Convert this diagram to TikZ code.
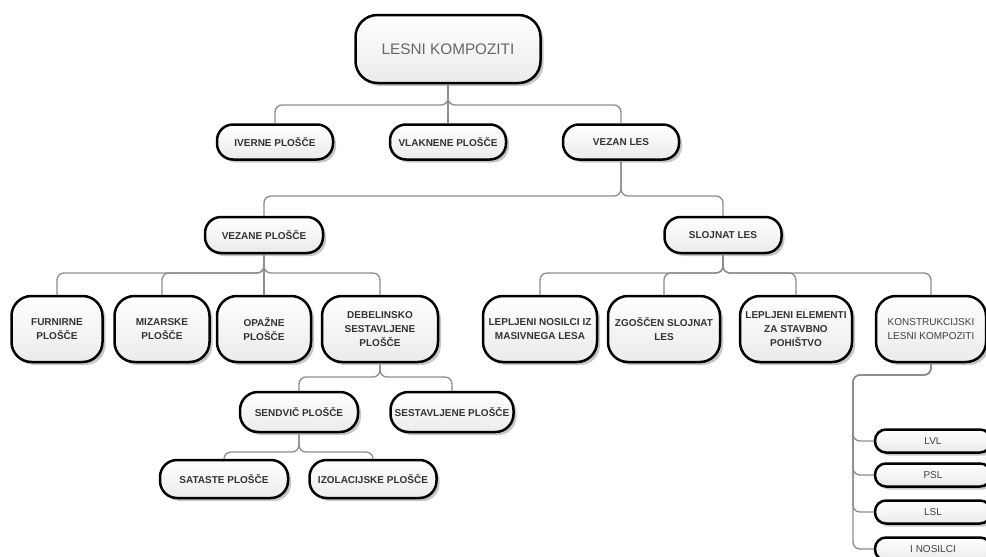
\documentclass[tikz,border=0pt]{standalone}
\usepackage{fontspec}
\setmainfont{Liberation Sans}
\usetikzlibrary{shadows}
\begin{document}
\begin{tikzpicture}[x=1pt,y=-1pt,
  box/.style={draw=black, line width=2.5pt, rounded corners=16pt,
    top color=white, bottom color=black!8,
    drop shadow={shadow xshift=3pt, shadow yshift=-3pt, opacity=0.22, fill=black},
    inner sep=0pt, align=center, font=\bfseries\fontsize{10}{14}\selectfont, text=black!80},
  regtext/.style={font=\fontsize{10}{14}\selectfont, text=black!75},
  conn/.style={draw=black!45, line width=1.3pt, rounded corners=7pt},
]
\clip (0,0) rectangle (986,557);
\fill[white] (0,0) rectangle (986,557);

% nodes
\node[box, rounded corners=22pt, minimum width=185pt, minimum height=68pt, font=\fontsize{15.3}{18}\selectfont, text=black!60] (root) at (448,49) {LESNI KOMPOZITI};

\node[box, minimum width=116pt, minimum height=35pt] (iv) at (275,142) {IVERNE PLOŠČE};
\node[box, minimum width=116pt, minimum height=35pt] (vl) at (448,142) {VLAKNENE PLOŠČE};
\node[box, minimum width=116pt, minimum height=35pt] (vz) at (621,142) {VEZAN LES};

\node[box, minimum width=118pt, minimum height=36pt] (vp) at (264,235) {VEZANE PLOŠČE};
\node[box, minimum width=117pt, minimum height=36pt] (sl) at (723,235) {SLOJNAT LES};

\node[box, rounded corners=20pt, minimum width=91pt, minimum height=66pt] (fu) at (57,329) {FURNIRNE\\PLOŠČE};
\node[box, rounded corners=20pt, minimum width=95pt, minimum height=66pt] (mi) at (162,329) {MIZARSKE\\PLOŠČE};
\node[box, rounded corners=20pt, minimum width=94pt, minimum height=66pt] (op) at (264,329) {OPAŽNE\\PLOŠČE};
\node[box, rounded corners=20pt, minimum width=116pt, minimum height=66pt] (de) at (380,329) {DEBELINSKO\\SESTAVLJENE\\PLOŠČE};
\node[box, rounded corners=20pt, minimum width=114pt, minimum height=66pt] (ln) at (540,329) {LEPLJENI NOSILCI IZ\\MASIVNEGA LESA};
\node[box, rounded corners=20pt, minimum width=112pt, minimum height=66pt] (zg) at (664,329) {ZGOŠČEN SLOJNAT\\LES};
\node[box, rounded corners=20pt, minimum width=112pt, minimum height=66pt] (le) at (796,329) {LEPLJENI ELEMENTI\\ZA STAVBNO\\POHIŠTVO};
\node[box, regtext, rounded corners=20pt, minimum width=110pt, minimum height=66pt] (ko) at (931,329) {KONSTRUKCIJSKI\\LESNI KOMPOZITI};

\node[box, rounded corners=18pt, minimum width=118pt, minimum height=40pt] (se) at (299,412) {SENDVIČ PLOŠČE};
\node[box, rounded corners=18pt, minimum width=123pt, minimum height=40pt] (ss) at (452,412) {SESTAVLJENE PLOŠČE};

\node[box, rounded corners=17pt, minimum width=128pt, minimum height=38pt] (sa) at (224,479) {SATASTE PLOŠČE};
\node[box, rounded corners=17pt, minimum width=127pt, minimum height=38pt] (iz) at (373,479) {IZOLACIJSKE PLOŠČE};

\node[box, regtext, rounded corners=11pt, minimum width=116pt, minimum height=23pt] (lvl) at (933,441) {LVL};
\node[box, regtext, rounded corners=11pt, minimum width=116pt, minimum height=23pt] (psl) at (933,475) {PSL};
\node[box, regtext, rounded corners=11pt, minimum width=116pt, minimum height=23pt] (lsl) at (933,512) {LSL};
\node[box, regtext, rounded corners=11pt, minimum width=116pt, minimum height=23pt] (ino) at (933,549) {I NOSILCI};

% bus coordinates
\coordinate (b1) at (0,105);
\coordinate (b2) at (0,196);
\coordinate (b3) at (0,273);
\coordinate (b4) at (0,377);
\coordinate (b5) at (0,452);
\coordinate (kb) at (853,375);

% connectors
\foreach \c in {iv,vz} \draw[conn] (root.south) |- (\c.north |- b1) -- (\c.north);
\draw[conn] (root.south) -- (vl.north);
\foreach \c in {vp,sl} \draw[conn] (vz.south) |- (\c.north |- b2) -- (\c.north);
\foreach \c in {fu,mi,de} \draw[conn] (vp.south) |- (\c.north |- b3) -- (\c.north);
\draw[conn] (vp.south) -- (op.north);
\foreach \c in {ln,zg,le,ko} \draw[conn] (sl.south) |- (\c.north |- b3) -- (\c.north);
\foreach \c in {se,ss} \draw[conn] (de.south) |- (\c.north |- b4) -- (\c.north);
\foreach \c in {sa,iz} \draw[conn] (se.south) |- (\c.north |- b5) -- (\c.north);
\foreach \c in {lvl,psl,lsl,ino} \draw[conn] (ko.south) |- (kb) |- (\c.west);
\end{tikzpicture}
\end{document}
